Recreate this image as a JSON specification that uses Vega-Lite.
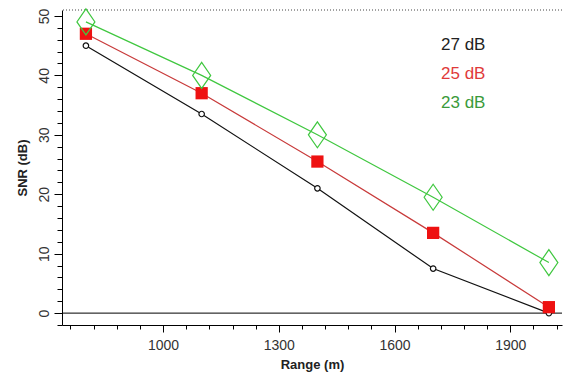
{
  "$schema": "https://vega.github.io/schema/vega-lite/v6.json",
  "autosize": {"type": "none"},
  "padding": {"left": 62, "top": 10, "right": 1, "bottom": 51},
  "width": 500,
  "height": 315,
  "background": "white",
  "config": {
    "view": {"stroke": null},
    "font": "Liberation Sans",
    "axis": {"grid": false, "domainColor": "#000", "tickColor": "#000", "labelColor": "#333", "labelFontSize": 14, "labelFont": "Liberation Sans", "titleFont": "Liberation Sans", "titleFontSize": 13, "titleFontWeight": "bold", "titleColor": "#222", "labelOverlap": false}
  },
  "data": {"values": [
    {"range": 800, "snr": 45, "series": "27 dB"},
    {"range": 1100, "snr": 33.5, "series": "27 dB"},
    {"range": 1400, "snr": 21, "series": "27 dB"},
    {"range": 1700, "snr": 7.5, "series": "27 dB"},
    {"range": 2000, "snr": 0, "series": "27 dB"},
    {"range": 800, "snr": 47, "series": "25 dB"},
    {"range": 1100, "snr": 37, "series": "25 dB"},
    {"range": 1400, "snr": 25.5, "series": "25 dB"},
    {"range": 1700, "snr": 13.5, "series": "25 dB"},
    {"range": 2000, "snr": 1, "series": "25 dB"},
    {"range": 800, "snr": 49, "series": "23 dB"},
    {"range": 1100, "snr": 40, "series": "23 dB"},
    {"range": 1400, "snr": 30, "series": "23 dB"},
    {"range": 1700, "snr": 19.5, "series": "23 dB"},
    {"range": 2000, "snr": 8.5, "series": "23 dB"}
  ]},
  "layer": [
    {
      "mark": {"type": "rule", "color": "#000", "strokeWidth": 1},
      "data": {"values": [{"y": 0}]},
      "encoding": {"y": {"field": "y", "type": "quantitative", "title": "SNR (dB)"}}
    },
    {
      "mark": {"type": "rule", "color": "#444", "strokeWidth": 1, "strokeDash": [1, 2]},
      "data": {"values": [{"y": 51}]},
      "encoding": {"y": {"field": "y", "type": "quantitative", "title": "SNR (dB)"}}
    },
    {
      "mark": {"type": "line", "strokeWidth": 1.2},
      "encoding": {
        "x": {"field": "range", "type": "quantitative", "scale": {"domain": [738, 2034], "nice": false, "zero": false},
          "axis": {"title": "Range (m)", "format": "d", "tickCount": 40,
            "values": [760, 820, 880, 940, 1000, 1060, 1120, 1180, 1240, 1300, 1360, 1420, 1480, 1540, 1600, 1660, 1720, 1780, 1840, 1900, 1960, 2020],
            "labelExpr": "(datum.value - 1000) % 300 == 0 ? datum.label : ''",
            "tickSize": {"condition": {"test": "(datum.value - 1000) % 300 == 0", "value": 7}, "value": 4},
            "labelPadding": 6, "titlePadding": 6, "labelFlush": false}},
        "y": {"field": "snr", "type": "quantitative", "title": "SNR (dB)", "scale": {"domain": [-2, 51], "nice": false, "zero": false},
          "axis": {"title": "SNR (dB)", "tickCount": 40,
            "values": [-2, 0, 2, 4, 6, 8, 10, 12, 14, 16, 18, 20, 22, 24, 26, 28, 30, 32, 34, 36, 38, 40, 42, 44, 46, 48, 50],
            "labelExpr": "datum.value % 10 == 0 ? datum.label : ''",
            "tickSize": {"condition": {"test": "datum.value % 10 == 0", "value": 8}, "value": 5},
            "labelAngle": -90, "labelAlign": "center", "labelBaseline": "bottom", "labelPadding": 3, "titlePadding": 8}},
        "color": {"field": "series", "type": "nominal",
          "scale": {"domain": ["27 dB", "25 dB", "23 dB"], "range": ["#111111", "#c83a3a", "#3fc73f"]},
          "legend": {"orient": "none", "legendX": 362, "legendY": 26, "title": null, "symbolSize": 0, "symbolStrokeWidth": 0, "symbolOpacity": 0, "labelOffset": 0, "labelFontSize": 17, "labelFont": "Liberation Sans", "rowPadding": 11,
            "encode": {"labels": {"update": {"fill": {"signal": "datum.value == '27 dB' ? '#222222' : datum.value == '25 dB' ? '#e03a3a' : '#3a9a3a'"}}}}}}
      }
    },
    {
      "transform": [{"filter": "datum.series == '27 dB'"}],
      "mark": {"type": "point", "shape": "circle", "size": 30, "filled": false, "fill": "white", "stroke": "#111", "strokeWidth": 1.2, "opacity": 1},
      "encoding": {"x": {"field": "range", "type": "quantitative"}, "y": {"field": "snr", "type": "quantitative", "title": "SNR (dB)"}}
    },
    {
      "transform": [{"filter": "datum.series == '25 dB'"}],
      "mark": {"type": "point", "shape": "square", "size": 150, "filled": true, "color": "#ee1111", "opacity": 1},
      "encoding": {"x": {"field": "range", "type": "quantitative"}, "y": {"field": "snr", "type": "quantitative", "title": "SNR (dB)"}}
    },
    {
      "transform": [{"filter": "datum.series == '23 dB'"}],
      "mark": {"type": "point", "shape": "M0,-1.3L0.9,0L0,1.3L-0.9,0Z", "size": 400, "filled": false, "stroke": "#3fc73f", "strokeWidth": 1.2, "opacity": 1},
      "encoding": {"x": {"field": "range", "type": "quantitative"}, "y": {"field": "snr", "type": "quantitative", "title": "SNR (dB)"}}
    }
  ]
}
